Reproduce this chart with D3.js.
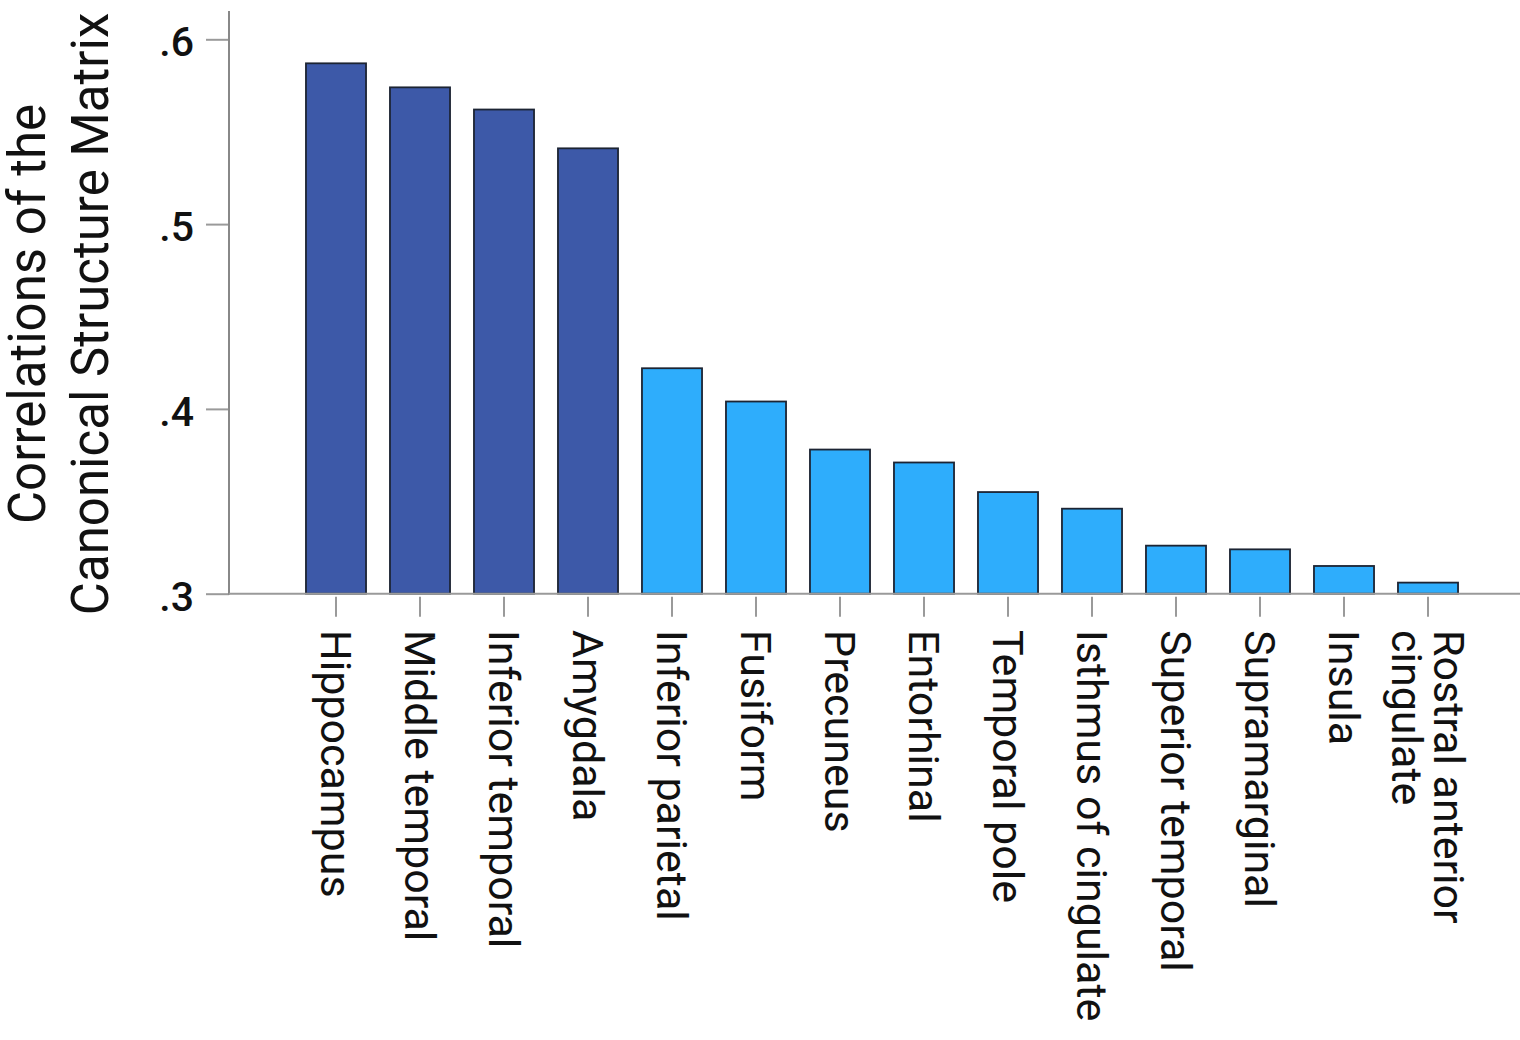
<!DOCTYPE html>
<html>
<head>
<meta charset="utf-8">
<script src="https://cdn.jsdelivr.net/npm/d3@7"></script>
<style>
  html, body { margin: 0; padding: 0; background: #fff; }
  svg { display: block; }
  text { font-family: Roboto, "Noto Sans", sans-serif; fill: #111; }
</style>
</head>
<body>
<svg id="chart" width="1520" height="1040"></svg>
<script>
const categories = [
  "Hippocampus", "Middle temporal", "Inferior temporal", "Amygdala",
  "Inferior parietal", "Fusiform", "Precuneus", "Entorhinal",
  "Temporal pole", "Isthmus of cingulate", "Superior temporal",
  "Supramarginal", "Insula", "Rostral anterior\ncingulate"
];
const values = [0.587, 0.574, 0.562, 0.541, 0.422, 0.404, 0.378, 0.371, 0.355, 0.346, 0.326, 0.324, 0.315, 0.306];
const groups = ["high", "high", "high", "high", "low", "low", "low", "low", "low", "low", "low", "low", "low", "low"];
const yTicks = [0.3, 0.4, 0.5, 0.6];
const yTickLabels = [".3", ".4", ".5", ".6"];
const yTitleLines = ["Correlations of the", "Canonical Structure Matrix"];
const colors = { high: "#3d59a8", low: "#2eadfc" };

const svg = d3.select("#chart");

const x = d3.scaleBand()
  .domain(categories)
  .range([294, 1470])
  .paddingInner(0.285)
  .paddingOuter(0.1425);

const y = d3.scaleLinear()
  .domain([0.3, 0.6])
  .range([593.7, 39.3]);

const axisColor = "#9a9a9a";

// Bars
svg.append("g").selectAll("rect")
  .data(categories)
  .join("rect")
  .attr("x", d => x(d))
  .attr("width", x.bandwidth())
  .attr("y", (d, i) => y(values[i]))
  .attr("height", (d, i) => y(0.3) - y(values[i]))
  .attr("fill", (d, i) => colors[groups[i]])
  .attr("stroke", "#1c2433")
  .attr("stroke-width", 1.8);

// Y axis
const yAxis = d3.axisLeft(y)
  .tickValues(yTicks)
  .tickFormat((d, i) => yTickLabels[i])
  .tickSize(23)
  .tickPadding(12);
const gy = svg.append("g").attr("transform", "translate(229,0)").call(yAxis);
gy.select(".domain").remove();
gy.selectAll(".tick line").attr("stroke", axisColor).attr("stroke-width", 2);
gy.selectAll(".tick text")
  .attr("font-size", 41)
  .attr("font-weight", 500)
  .attr("dy", "0.4em")
  .style("fill", "#111");
gy.append("line")
  .attr("x1", 0).attr("x2", 0)
  .attr("y1", y(0.6153)).attr("y2", y(0.3) + 1)
  .attr("stroke", "#888").attr("stroke-width", 2);

// X axis line
svg.append("line")
  .attr("x1", 229).attr("x2", 1520)
  .attr("y1", y(0.3)).attr("y2", y(0.3))
  .attr("stroke", axisColor).attr("stroke-width", 2);

// X ticks and labels
const xAxis = d3.axisBottom(x)
  .tickSize(20)
  .tickSizeOuter(0)
  .tickFormat("");
const gx = svg.append("g").attr("transform", `translate(0,${y(0.3) + 3})`).call(xAxis);
gx.select(".domain").remove();
gx.selectAll(".tick line").attr("stroke", axisColor).attr("stroke-width", 2);

const labelFont = 43;
const lineH = 42;
const lg = svg.append("g");
categories.forEach(c => {
  const lines = c.split("\n");
  const cx = x(c) + x.bandwidth() / 2;
  const t = lg.append("text")
    .attr("transform", `translate(${cx},630) rotate(90)`)
    .attr("font-size", labelFont)
    .attr("text-anchor", "start");
  lines.forEach((ln, k) => {
    const off = (k - (lines.length - 1) / 2) * lineH;
    t.append("tspan")
      .attr("x", 0)
      .attr("y", off)
      .attr("dy", "0.35em")
      .text(ln);
  });
});

// Y title
const title = svg.append("text")
  .attr("transform", "translate(0,314) rotate(-90)")
  .attr("font-size", 51)
  .attr("text-anchor", "middle");
yTitleLines.forEach((ln, k) => {
  title.append("tspan")
    .attr("x", 0)
    .attr("y", k === 0 ? 45 : 108)
    .text(ln);
});
</script>
</body>
</html>
